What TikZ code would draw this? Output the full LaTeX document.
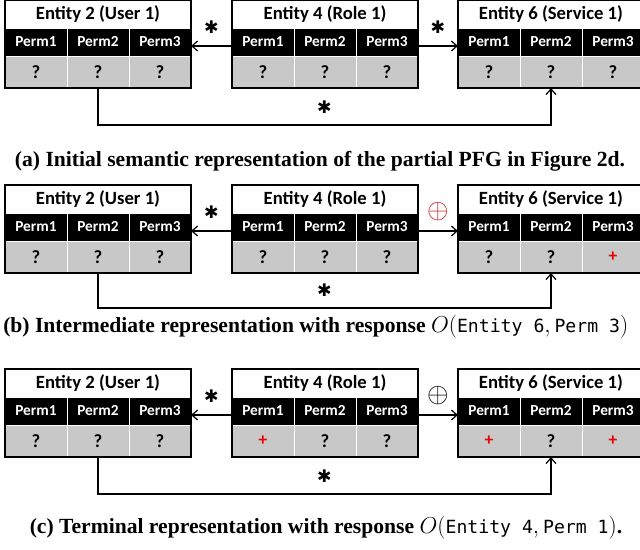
\documentclass[tikz,border=0pt]{standalone}
\usepackage{amsmath}
\usepackage{fontspec}
\setmainfont{Liberation Serif}
\setmonofont{DejaVu Sans Mono}[Scale=0.84]
\newfontfamily\calfont{Carlito}
\newfontfamily\symfont{DejaVu Sans}
\usetikzlibrary{
  arrows.meta,
  positioning
}
\definecolor{cellgray}{RGB}{200,200,200}
\definecolor{plusred}{RGB}{235,0,0}
\definecolor{oplusred}{RGB}{200,30,30}
\tikzset{
  hdcell/.style   = {fill=white, inner sep=0pt, outer sep=0pt,
                     minimum width=139.5pt, minimum height=21pt,
                     font=\calfont\bfseries\fontsize{14}{14}\selectfont},
  permcell/.style = {fill=black, draw=white, line width=0.6pt, text=white,
                     inner sep=0pt, outer sep=0pt,
                     minimum width=46.5pt, minimum height=21pt,
                     font=\calfont\bfseries\fontsize{11.5}{11.5}\selectfont},
  valcell/.style  = {fill=cellgray, draw=white, line width=0.6pt,
                     inner sep=0pt, outer sep=0pt,
                     minimum width=46.5pt, minimum height=24pt,
                     font=\calfont\bfseries\fontsize{14}{14}\selectfont},
  frame/.style    = {draw, line width=1.4pt},
  arrow/.style    = {-{Straight Barb[length=1.5mm, width=2.6mm]}, line width=0.9pt},
  starlbl/.style  = {font=\symfont\fontsize{13}{13}\selectfont, inner sep=0pt},
  opluslbl/.style = {font=\fontsize{20}{20}\selectfont, inner sep=0pt},
  caption/.style  = {font=\bfseries\fontsize{16.2}{16.2}\selectfont, inner sep=0pt},
}
\newcommand{\plus}{\textcolor{plusred}{\fontsize{13}{13}\selectfont+}}
\newcommand{\hstar}{✱}
% one entity: name, x, y (top left), title, three values
\newcommand{\permtable}[7]{%
  \node[hdcell, anchor=north west] (#1-hd) at (#2,#3) {#4};
  \node[permcell, below right=0pt and 0pt of #1-hd.south west] (#1-p1) {Perm1};
  \node[permcell, right=0pt of #1-p1] (#1-p2) {Perm2};
  \node[permcell, right=0pt of #1-p2] (#1-p3) {Perm3};
  \node[valcell, below=0pt of #1-p1] (#1-v1) {#5};
  \node[valcell, below=0pt of #1-p2] (#1-v2) {#6};
  \node[valcell, below=0pt of #1-p3] (#1-v3) {#7};
  \draw[frame] (#1-hd.north west) rectangle (#1-v3.south east);
}

\begin{document}
\begin{tikzpicture}[x=0.75pt, y=-0.75pt]
\useasboundingbox (0,0) rectangle (640,550);

% (a)
\permtable{aE2}{5}{0}{Entity 2 (User 1)}{?}{?}{?}
\permtable{aE4}{232}{0}{Entity 4 (Role 1)}{?}{?}{?}
\permtable{aE6}{458}{0}{Entity 6 (Service 1)}{?}{?}{?}
\coordinate (aLow) at (0,125);
\draw[arrow] ([yshift=-3pt]aE4-p1.west) -- node[starlbl, above=9pt] (aS1) {\hstar} ([yshift=-3pt]aE2-p3.east);
\draw[arrow] ([yshift=-3pt]aE4-p3.east) -- node[starlbl, above=9pt] (aS2) {\hstar} ([yshift=-3pt]aE6-p1.west);
\draw[arrow] (aE2-v2.south) -- (aE2-v2.south |- aLow)
  -- node[starlbl, above=8pt] (aS3) {\hstar} (aE6-v2.south |- aLow) -- (aE6-v2.south);
\node[caption] (capA) at (320,161) {(a) Initial semantic representation of the partial PFG in Figure 2d.};

% (b)
\permtable{bE2}{5}{185}{Entity 2 (User 1)}{?}{?}{?}
\permtable{bE4}{232}{185}{Entity 4 (Role 1)}{?}{?}{?}
\permtable{bE6}{458}{185}{Entity 6 (Service 1)}{?}{?}{\plus}
\coordinate (bLow) at (0,308);
\draw[arrow] ([yshift=-3pt]bE4-p1.west) -- node[starlbl, above=9pt] (bS1) {\hstar} ([yshift=-3pt]bE2-p3.east);
\draw[arrow] ([yshift=-3pt]bE4-p3.east) -- node[opluslbl, above=7pt, text=oplusred] (bS2) {$\oplus$} ([yshift=-3pt]bE6-p1.west);
\draw[arrow] (bE2-v2.south) -- (bE2-v2.south |- bLow)
  -- node[starlbl, above=8pt] (bS3) {\hstar} (bE6-v2.south |- bLow) -- (bE6-v2.south);
\node[caption, anchor=west] (capB) at (3,327) {(b) Intermediate representation with response $O(\text{\mdseries\ttfamily Entity 6}, \text{\mdseries\ttfamily Perm 3})$};

% (c)
\permtable{cE2}{5}{369}{Entity 2 (User 1)}{?}{?}{?}
\permtable{cE4}{232}{369}{Entity 4 (Role 1)}{\plus}{?}{?}
\permtable{cE6}{458}{369}{Entity 6 (Service 1)}{\plus}{?}{\plus}
\coordinate (cLow) at (0,494);
\draw[arrow] ([yshift=-3pt]cE4-p1.west) -- node[starlbl, above=9pt] (cS1) {\hstar} ([yshift=-3pt]cE2-p3.east);
\draw[arrow] ([yshift=-3pt]cE4-p3.east) -- node[opluslbl, above=7pt] (cS2) {$\oplus$} ([yshift=-3pt]cE6-p1.west);
\draw[arrow] (cE2-v2.south) -- (cE2-v2.south |- cLow)
  -- node[starlbl, above=8pt] (cS3) {\hstar} (cE6-v2.south |- cLow) -- (cE6-v2.south);
\node[caption] (capC) at (326,528) {(c) Terminal representation with response $O(\text{\mdseries\ttfamily Entity 4}, \text{\mdseries\ttfamily Perm 1})$.};
\end{tikzpicture}
\end{document}
